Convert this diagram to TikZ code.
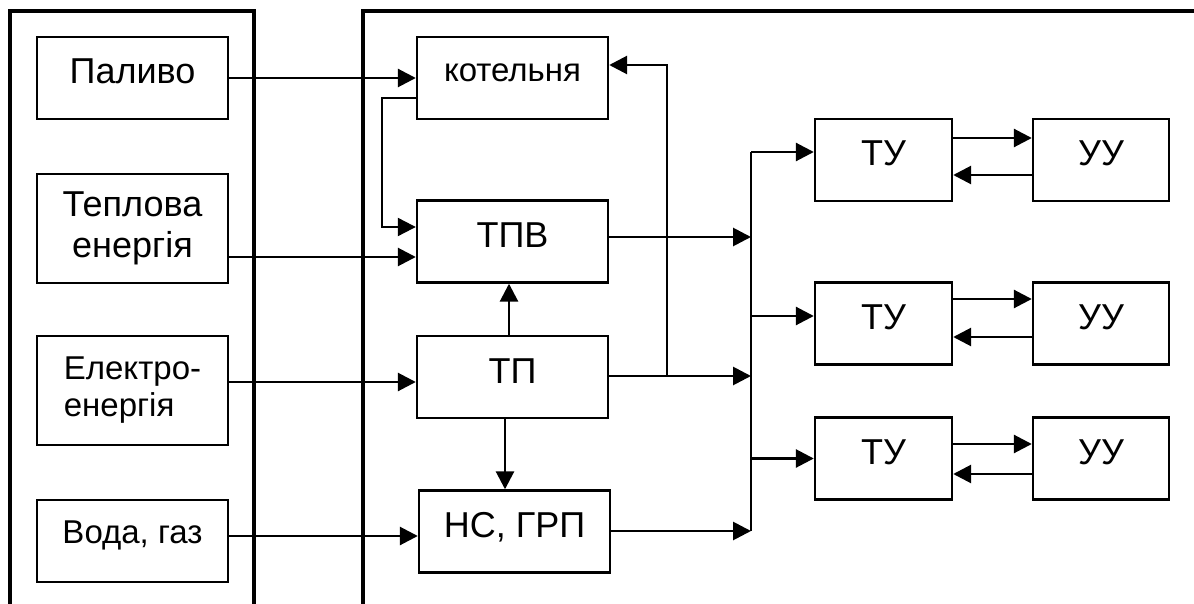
\documentclass[tikz,border=0pt]{standalone}
\usepackage{fontspec}
\setmainfont{Liberation Sans}
\usetikzlibrary{arrows.meta,positioning}

\tikzset{
  box/.style={rectangle, draw=black, line width=2.4pt, minimum width=191pt,
    minimum height=82pt, inner sep=0pt, font=\fontsize{36}{41}\selectfont},
  oneline/.style={text height=26pt, text depth=14pt},
  small/.style={font=\fontsize{33}{37}\selectfont},
  arr/.style={-{Triangle[length=18pt,width=18pt]}, line width=2.8pt},
  frame/.style={line width=3.4pt}
}

\begin{document}
\begin{tikzpicture}[x=1pt,y=-1pt,node distance=150pt,auto]
	\useasboundingbox (0,0) rectangle (1194,604);
	% frames
	\draw[frame] (10,604) -- (10,11) -- (254,11) -- (254,604);
	\draw[frame] (363,604) -- (363,11) -- (1194,11);

	% resources
	\node[box,oneline] (pal) at (132.5,78) {Паливо};
	\node[box,minimum height=109pt,align=center] (tep) [below of=pal, node distance=150.5pt] {Теплова\\енергія};
	\node[box,small,minimum height=109pt,align=left] (el) [below of=tep, node distance=162pt] {Електро-\\енергія};
	\node[box,small,text height=24pt,text depth=20pt] (voda) [below of=el, node distance=150.5pt] {Вода, газ};

	% sources
	\node[box,small,text height=24pt,text depth=16pt] (kot) [right of=pal, node distance=380pt] {котельня};
	\node[box,oneline] (tpv) [below of=kot, node distance=163.5pt] {ТПВ};
	\node[box,oneline] (tp) [below of=tpv, node distance=135.5pt] {ТП};
	\node[box,oneline] (ns) at (514.5,531.5) {НС, ГРП};

	% consumers
	\node[box,oneline,minimum width=137pt] (tu1) at (883.5,160) {ТУ};
	\node[box,oneline,minimum width=136pt] (uu1) [right of=tu1, node distance=217.5pt] {УУ};
	\node[box,oneline,minimum width=137pt] (tu2) [below of=tu1, node distance=163.5pt] {ТУ};
	\node[box,oneline,minimum width=136pt] (uu2) [right of=tu2, node distance=217.5pt] {УУ};
	\node[box,oneline,minimum width=137pt] (tu3) [below of=tu2, node distance=135pt] {ТУ};
	\node[box,oneline,minimum width=136pt] (uu3) [right of=tu3, node distance=217.5pt] {УУ};

	\coordinate (bt) at (751,152);
	\coordinate (bb) at (751,531);
	\coordinate (br) at (667,376);

	\draw[arr] (pal.east) -- (kot.west |- pal.east);
	\draw[arr] (tep.east |- 0,257) -- (tpv.west |- 0,257);
	\draw[arr] (el.east |- 0,382) -- (tp.west |- 0,382);
	\draw[arr] (voda.east |- 0,536) -- (ns.west |- 0,536);
	\draw[arr,line width=2.2pt] (kot.west |- 0,98) -- (382,98) |- (tpv.west |- 0,227);
	\draw[arr] (tp.north -| 509,0) -- (tpv.south -| 509,0);
	\draw[arr] (tp.south -| 505,0) -- (ns.north -| 505,0);

	% bus
	\draw[line width=2.6pt] (bt) -- (bb);
	\draw[arr] (tpv.east |- 0,237) -- (bt |- 0,237);
	\draw[arr] (tp.east |- br) -- (bt |- br);
	\draw[arr] (ns.east |- bb) -- (bb);
	\draw[arr] (br) -- (br |- 0,65) -- (kot.east |- 0,65);

	\draw[arr] (bt) -- (tu1.west |- bt);
	\draw[arr] (bt |- 0,316) -- (tu2.west |- 0,316);
	\draw[arr] (bt |- tu3.west) -- (tu3.west);

	\draw[arr] (tu1.east |- 0,138) -- (uu1.west |- 0,138);
	\draw[arr] (uu1.west |- 0,175) -- (tu1.east |- 0,175);
	\draw[arr] (tu2.east |- 0,299) -- (uu2.west |- 0,299);
	\draw[arr] (uu2.west |- 0,337) -- (tu2.east |- 0,337);
	\draw[arr] (tu3.east |- 0,444) -- (uu3.west |- 0,444);
	\draw[arr] (uu3.west |- 0,474) -- (tu3.east |- 0,474);
\end{tikzpicture}
\end{document}
